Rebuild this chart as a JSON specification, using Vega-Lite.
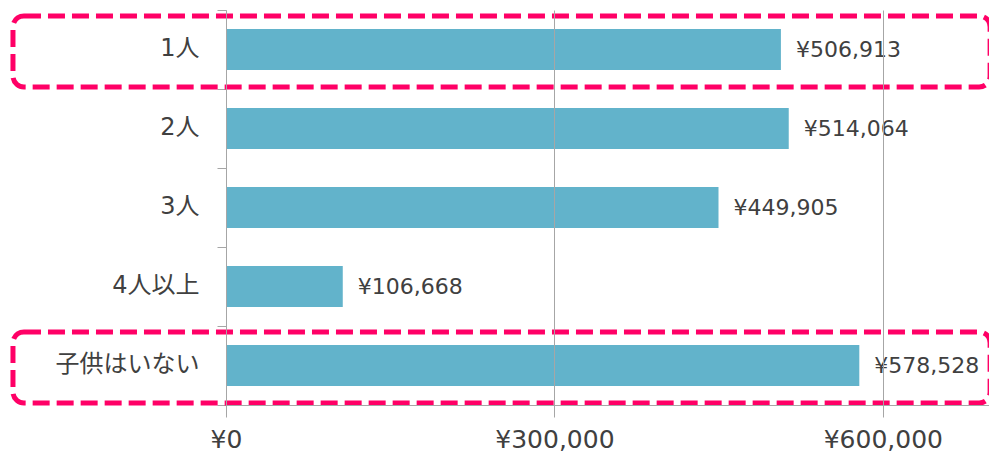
{
  "$schema": "https://vega.github.io/schema/vega-lite/v6.json",
  "autosize": {"type": "none"},
  "width": 763,
  "height": 395,
  "padding": {"left": 226, "top": 10, "right": 0, "bottom": 53},
  "background": "#ffffff",
  "data": {
    "values": [
      {"category": "1人", "value": 506913, "highlight": true},
      {"category": "2人", "value": 514064, "highlight": false},
      {"category": "3人", "value": 449905, "highlight": false},
      {"category": "4人以上", "value": 106668, "highlight": false},
      {"category": "子供はいない", "value": 578528, "highlight": true}
    ]
  },
  "transform": [
    {"calculate": "'¥' + format(datum.value, ',')", "as": "label"}
  ],
  "encoding": {
    "y": {
      "field": "category",
      "type": "nominal",
      "sort": null,
      "scale": {"paddingInner": 0, "paddingOuter": 0},
      "axis": {
        "title": null,
        "tickBand": "extent",
        "tickSize": 9,
        "tickColor": "#a6a6a6",
        "domainColor": "#a6a6a6",
        "labelFont": "DejaVu Sans, Noto Sans CJK JP",
        "labelFontSize": 24,
        "labelColor": "#404040",
        "labelPadding": 18,
        "labelOffset": -1,
        "grid": false
      }
    }
  },
  "layer": [
    {
      "mark": {"type": "bar", "color": "#62b3cb", "height": {"band": 0.52}},
      "encoding": {
        "x": {
          "field": "value",
          "type": "quantitative",
          "scale": {"domain": [0, 697000], "nice": false, "zero": true},
          "axis": {
            "title": null,
            "values": [0, 300000, 600000],
            "labelExpr": "'¥' + format(datum.value, ',')",
            "grid": true,
            "zindex": 1,
            "gridColor": "#a6a6a6",
            "gridWidth": 1,
            "tickSize": 12,
            "tickColor": "#a6a6a6",
            "domainColor": "#a6a6a6",
            "labelFont": "DejaVu Sans, Noto Sans CJK JP",
            "labelFontSize": 25,
            "labelColor": "#404040",
            "labelPadding": 10,
            "labelFlush": false
          }
        }
      }
    },
    {
      "mark": {"type": "text", "align": "left", "baseline": "middle", "dx": 15, "font": "DejaVu Sans, Noto Sans CJK JP", "fontSize": 22, "color": "#404040"},
      "encoding": {
        "x": {"field": "value", "type": "quantitative"},
        "text": {"field": "label"}
      }
    },
    {
      "transform": [{"filter": "datum.highlight"}],
      "mark": {"type": "rect", "fill": null, "fillOpacity": 0, "stroke": "#ff0066", "strokeWidth": 5, "strokeDash": [17, 7], "cornerRadius": 11, "height": {"band": 0.9}, "yOffset": 2, "clip": false},
      "encoding": {
        "x": {"datum": -194600},
        "x2": {"datum": 698000}
      }
    }
  ],
  "config": {
    "view": {"stroke": null},
    "axis": {"domainWidth": 1, "tickWidth": 1}
  }
}
